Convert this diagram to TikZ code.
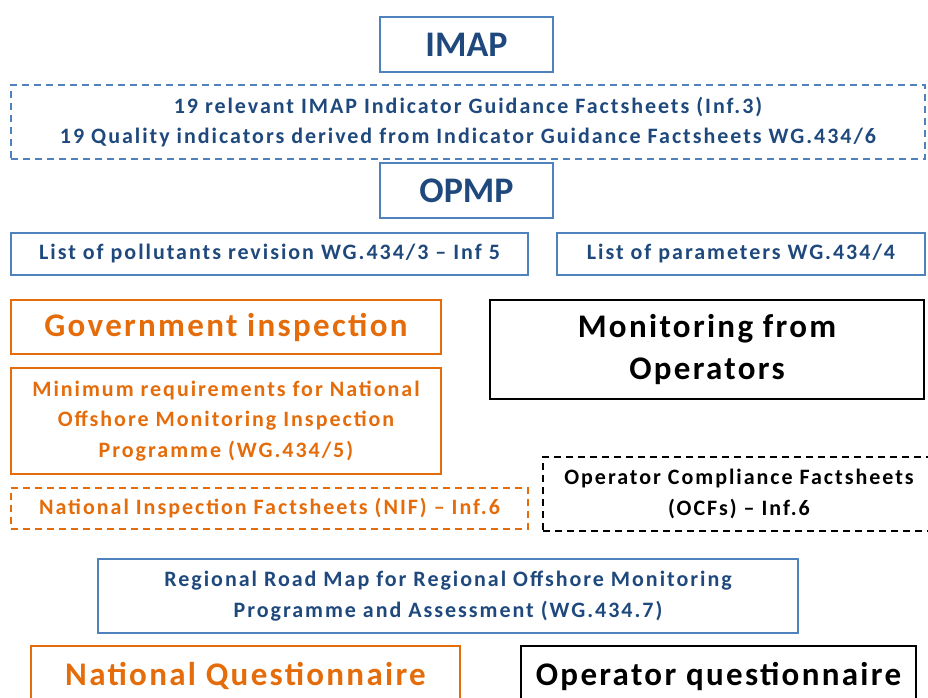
\documentclass[tikz,border=0pt]{standalone}
\usepackage{fontspec}
\setmainfont{Carlito}
\newfontfamily\widefont[LetterSpace=9]{Carlito}
\newfontfamily\bigfont[LetterSpace=7]{Carlito}
\usepackage{tikz}
\definecolor{imapblue}{HTML}{4F81BD}
\definecolor{imapnavy}{HTML}{1F497D}
\definecolor{govorange}{HTML}{E46C0A}
\tikzset{
  box/.style        = {shape=rectangle, draw, line width=1.6pt,
                       align=center, inner sep=0pt, font=\bfseries},
  bluebox/.style    = {box, draw=imapblue, text=imapnavy},
  orangebox/.style  = {box, draw=govorange, text=govorange},
  blackbox/.style   = {box, draw=black, text=black},
  dashbox/.style    = {dash pattern=on 7pt off 5pt},
  huge/.style       = {font=\bfseries\fontsize{36}{40}\selectfont},
  big/.style        = {font=\bigfont\bfseries\fontsize{33}{42}\selectfont},
  small/.style      = {font=\widefont\bfseries\fontsize{22}{30.5}\selectfont}
}
\begin{document}
\begin{tikzpicture}[x=1pt, y=-1pt]
  \useasboundingbox (0,0) rectangle (928,697);
  % upper part
  \node [bluebox, huge, minimum width=173, minimum height=55] (imap) at (466.5,44.5) {IMAP};
  \node [bluebox, dashbox, small, minimum width=914, minimum height=74] (guide) at (468,122)
    {19 relevant IMAP Indicator Guidance Factsheets (Inf.3)\\
     19 Quality indicators derived from Indicator Guidance Factsheets WG.434/6};
  \node [bluebox, huge, minimum width=173, minimum height=55] (opmp) at (466.5,190.5) {OPMP};
  \node [bluebox, small, minimum width=517, minimum height=42] (pollutants) at (269.5,254)
    {List of pollutants revision WG.434/3 \textendash{} Inf 5};
  \node [bluebox, small, minimum width=368, minimum height=42] (params) at (741,254)
    {List of parameters WG.434/4};
  % government side
  \node [orangebox, big, minimum width=430, minimum height=54] (govinsp) at (226,327)
    {Government inspection};
  \node [orangebox, small, minimum width=430, minimum height=106] (minreq) at (226,421)
    {Minimum requirements for National\\ Offshore Monitoring Inspection\\ Programme (WG.434/5)};
  \node [orangebox, dashbox, small, minimum width=517, minimum height=41] (nif) at (269.5,508.5)
    {National Inspection Factsheets (NIF) \textendash{} Inf.6};
  % operator side
  \node [blackbox, big, minimum width=434, minimum height=99] (monops) at (707,349.5)
    {Monitoring from\\ Operators};
  \node [blackbox, dashbox, small, minimum width=392, minimum height=74] (ocf) at (739,494)
    {Operator Compliance Factsheets\\ (OCFs) \textendash{} Inf.6};
  % regional part
  \node [bluebox, small, minimum width=700, minimum height=74] (roadmap) at (448,596)
    {Regional Road Map for Regional Offshore Monitoring\\ Programme and Assessment (WG.434.7)};
  \node [orangebox, big, minimum width=429, minimum height=60] (natq) at (245.5,676)
    {National Questionnaire};
  \node [blackbox, big, minimum width=395, minimum height=60] (opq) at (718.5,676)
    {Operator questionnaire};
\end{tikzpicture}
\end{document}
